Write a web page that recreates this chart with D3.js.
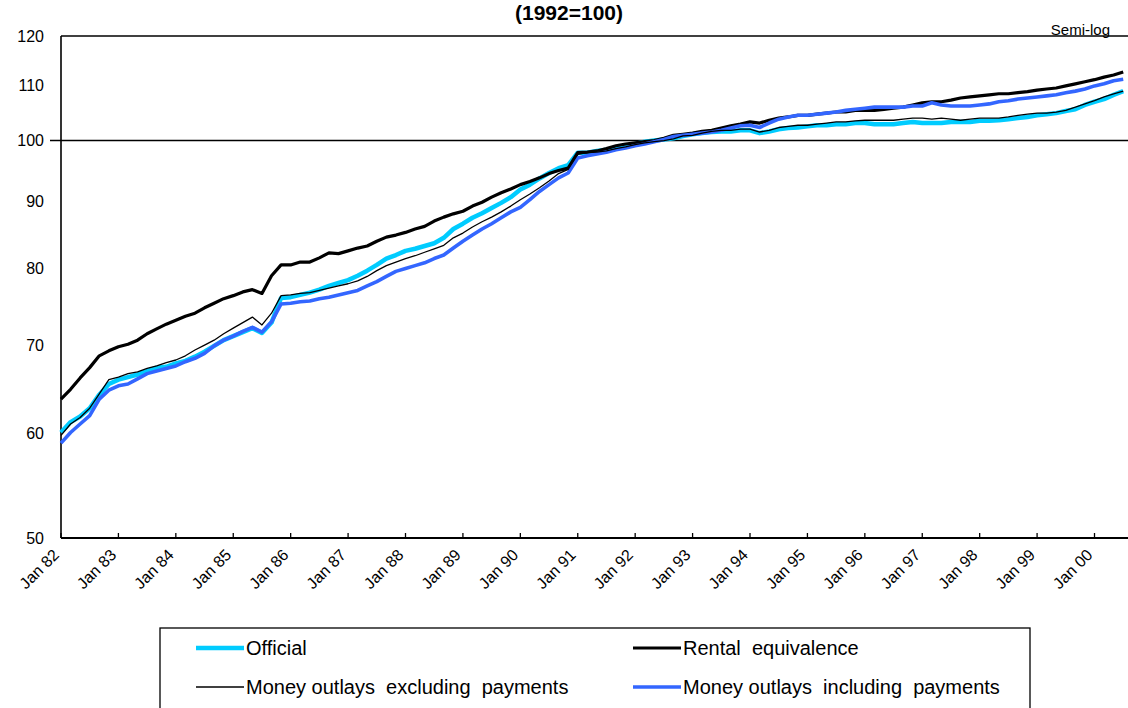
<!DOCTYPE html>
<html>
<head>
<meta charset="utf-8">
<script src="https://cdn.jsdelivr.net/npm/d3@7/dist/d3.min.js"></script>
<style>
  body { margin: 0; background: #fff; }
  svg { display: block; }
  text { font-family: "Liberation Sans", Arial, sans-serif; fill: #000; }
</style>
</head>
<body>
<svg id="chart"></svg>
<script>
// monthly index from Jan 1982, one reading every 2 months
const stepMonths = 2;
const lastMonth = 223;

const official = [
  60.1, 61.2, 61.8, 62.7, 64.2, 65.4, 65.9, 66.2, 66.5, 66.9, 67.3, 67.4,
  67.8, 68.1, 68.6, 69.2, 69.9, 70.6, 71.1, 71.6, 72.1, 71.5, 72.8, 76.0,
  76.1, 76.4, 76.7, 77.1, 77.6, 78.0, 78.4, 79.0, 79.7, 80.5, 81.4, 81.9,
  82.5, 82.8, 83.2, 83.6, 84.4, 85.7, 86.5, 87.4, 88.1, 88.9, 89.7, 90.6,
  91.8, 92.6, 93.6, 94.5, 95.3, 95.8, 97.9, 97.9, 98.2, 98.4, 98.7, 99.1,
  99.4, 99.8, 100.0, 100.2, 100.4, 100.8, 101.1, 101.3, 101.5, 101.6, 101.6, 101.8,
  101.8, 101.3, 101.6, 102.0, 102.2, 102.3, 102.5, 102.7, 102.7, 102.9, 102.9, 103.1,
  103.1, 102.9, 102.9, 102.9, 103.1, 103.3, 103.1, 103.1, 103.1, 103.3, 103.3, 103.3,
  103.5, 103.5, 103.6, 103.8, 104.0, 104.2, 104.5, 104.7, 104.9, 105.3, 105.6, 106.4,
  107.0, 107.5, 108.3, 109.0
];

const rental = [
  63.7, 64.8, 66.1, 67.3, 68.7, 69.3, 69.8, 70.1, 70.6, 71.4, 72.0, 72.6,
  73.1, 73.6, 74.0, 74.7, 75.3, 75.9, 76.3, 76.8, 77.1, 76.6, 79.0, 80.5,
  80.5, 80.9, 80.9, 81.5, 82.2, 82.1, 82.5, 82.9, 83.2, 83.9, 84.5, 84.8,
  85.2, 85.7, 86.1, 86.9, 87.5, 88.0, 88.4, 89.2, 89.8, 90.6, 91.3, 91.9,
  92.6, 93.1, 93.7, 94.4, 94.9, 95.3, 97.9, 98.0, 98.2, 98.6, 99.1, 99.4,
  99.6, 99.8, 100.0, 100.4, 100.9, 101.1, 101.3, 101.6, 101.8, 102.2, 102.6, 102.9,
  103.3, 103.1, 103.6, 104.0, 104.2, 104.5, 104.5, 104.7, 104.9, 105.1, 105.1, 105.4,
  105.4, 105.4, 105.6, 105.8, 106.0, 106.4, 106.8, 107.0, 107.0, 107.3, 107.7, 107.9,
  108.1, 108.3, 108.5, 108.5, 108.7, 108.9, 109.2, 109.4, 109.6, 110.0, 110.4, 110.8,
  111.2, 111.7, 112.1, 112.7
];

const excluding = [
  59.8, 61.0, 61.7, 62.7, 64.3, 65.9, 66.2, 66.6, 66.8, 67.2, 67.5, 67.9,
  68.2, 68.7, 69.4, 70.0, 70.6, 71.4, 72.1, 72.8, 73.5, 72.5, 74.0, 76.3,
  76.4, 76.6, 76.7, 77.0, 77.3, 77.6, 77.9, 78.3, 78.9, 79.7, 80.4, 80.9,
  81.4, 81.8, 82.3, 82.8, 83.3, 84.4, 85.1, 86.0, 86.8, 87.5, 88.3, 89.2,
  90.2, 91.1, 92.1, 93.2, 94.4, 95.1, 97.6, 97.9, 98.0, 98.2, 98.6, 98.9,
  99.3, 99.6, 99.8, 100.0, 100.3, 100.8, 100.9, 101.3, 101.6, 101.8, 101.8, 102.0,
  102.0, 101.5, 101.8, 102.3, 102.5, 102.7, 102.7, 102.9, 103.1, 103.3, 103.3, 103.5,
  103.6, 103.6, 103.6, 103.6, 103.8, 104.0, 104.0, 103.8, 104.0, 103.8, 103.6, 103.8,
  104.0, 104.0, 104.0, 104.2, 104.5, 104.7, 104.9, 104.9, 105.1, 105.4, 106.0, 106.6,
  107.2, 107.9, 108.5, 109.0
];

const including = [
  59.0, 60.1, 61.0, 61.9, 63.7, 64.7, 65.2, 65.4, 66.0, 66.6, 66.9, 67.2,
  67.5, 68.0, 68.4, 69.0, 69.9, 70.6, 71.1, 71.7, 72.2, 71.6, 72.9, 75.2,
  75.3, 75.5, 75.6, 75.9, 76.1, 76.4, 76.7, 77.0, 77.6, 78.2, 78.9, 79.6,
  80.0, 80.4, 80.8, 81.4, 81.9, 82.9, 83.9, 84.8, 85.7, 86.5, 87.4, 88.3,
  89.0, 90.2, 91.5, 92.6, 93.7, 94.5, 97.0, 97.4, 97.7, 98.0, 98.4, 98.7,
  99.1, 99.4, 99.8, 100.2, 100.7, 100.9, 101.1, 101.3, 101.5, 101.8, 102.2, 102.6,
  102.7, 102.3, 103.1, 103.8, 104.2, 104.5, 104.5, 104.7, 104.9, 105.1, 105.4, 105.6,
  105.8, 106.0, 106.0, 106.0, 106.0, 106.2, 106.2, 106.8, 106.4, 106.2, 106.2, 106.2,
  106.4, 106.6, 107.0, 107.2, 107.5, 107.7, 107.9, 108.1, 108.3, 108.7, 109.0, 109.4,
  110.0, 110.4, 111.0, 111.3
];

const yTicks = [50, 60, 70, 80, 90, 100, 110, 120];
const yearLabels = ["Jan 82", "Jan 83", "Jan 84", "Jan 85", "Jan 86", "Jan 87", "Jan 88",
  "Jan 89", "Jan 90", "Jan 91", "Jan 92", "Jan 93", "Jan 94", "Jan 95", "Jan 96",
  "Jan 97", "Jan 98", "Jan 99", "Jan 00"];
const seriesNames = ["Official", "Rental  equivalence",
  "Money outlays  excluding  payments", "Money outlays  including  payments"];

const width = 1128, height = 708;
const margin = { top: 36, right: 0, bottom: 170, left: 61 };

const svg = d3.select("#chart")
  .attr("width", width)
  .attr("height", height);

const x = d3.scaleLinear()
  .domain([0, lastMonth])
  .range([margin.left, width - margin.right]);

const y = d3.scaleLog()
  .domain([50, 120])
  .range([height - margin.bottom, margin.top]);

const plotBottom = height - margin.bottom;

// series styles, in drawing order
const series = [
  { name: seriesNames[0], values: official, color: "#00ccff", w: 4.5 },
  { name: seriesNames[1], values: rental, color: "#000000", w: 3.2 },
  { name: seriesNames[3], values: including, color: "#3366ff", w: 3.6 },
  { name: seriesNames[2], values: excluding, color: "#000000", w: 1.3 }
];

// title
svg.append("text")
  .attr("x", 569)
  .attr("y", 20)
  .attr("text-anchor", "middle")
  .style("font-size", "21px")
  .style("font-weight", "bold")
  .text("(1992=100)");

svg.append("text")
  .attr("x", 1110)
  .attr("y", 35)
  .attr("text-anchor", "end")
  .style("font-size", "15px")
  .text("Semi-log");

// y labels
svg.append("g")
  .selectAll("text")
  .data(yTicks)
  .enter()
  .append("text")
  .attr("x", 44)
  .attr("y", d => y(d))
  .attr("dy", "0.35em")
  .attr("text-anchor", "end")
  .style("font-size", "16px")
  .text(d => d);

// frame: top border, left axis, 100 line
svg.append("line")
  .attr("x1", margin.left).attr("x2", width)
  .attr("y1", y(120)).attr("y2", y(120))
  .attr("stroke", "#000").attr("stroke-width", 1.5);

svg.append("line")
  .attr("x1", 50).attr("x2", width)
  .attr("y1", y(100)).attr("y2", y(100))
  .attr("stroke", "#000").attr("stroke-width", 1.4);

svg.append("line")
  .attr("x1", margin.left).attr("x2", margin.left)
  .attr("y1", y(120)).attr("y2", plotBottom)
  .attr("stroke", "#000").attr("stroke-width", 1.6);

// lines
const line = d3.line()
  .x((d, i) => x(i * stepMonths))
  .y(d => y(d));

svg.append("g")
  .selectAll("path")
  .data(series)
  .enter()
  .append("path")
  .attr("d", d => line(d.values))
  .attr("fill", "none")
  .attr("stroke", d => d.color)
  .attr("stroke-width", d => d.w)
  .attr("stroke-linejoin", "round");

// x axis with yearly ticks pointing inward
const xAxis = svg.append("g")
  .attr("transform", `translate(0,${plotBottom})`);

xAxis.append("line")
  .attr("x1", margin.left).attr("x2", width)
  .attr("stroke", "#000").attr("stroke-width", 2.2);

xAxis.selectAll(".tick")
  .data(yearLabels)
  .enter()
  .append("line")
  .attr("x1", (d, i) => x(i * 12)).attr("x2", (d, i) => x(i * 12))
  .attr("y1", 0).attr("y2", -5)
  .attr("stroke", "#000").attr("stroke-width", 1.3);

xAxis.selectAll(".lbl")
  .data(yearLabels)
  .enter()
  .append("text")
  .attr("transform", (d, i) => `translate(${x(i * 12) - 5},${14}) rotate(-45)`)
  .attr("text-anchor", "end")
  .attr("dy", "0.35em")
  .style("font-size", "16px")
  .text(d => d);

// legend
const legend = svg.append("g");

legend.append("rect")
  .attr("x", 160).attr("y", 628)
  .attr("width", 870).attr("height", 100)
  .attr("fill", "#fff")
  .attr("stroke", "#000").attr("stroke-width", 1.3);

const legendItems = [
  { s: series[0], lx: 196, ly: 648 },
  { s: series[1], lx: 633, ly: 648 },
  { s: series[3], lx: 196, ly: 687 },
  { s: series[2], lx: 633, ly: 687 }
];

legendItems.forEach(item => {
  legend.append("line")
    .attr("x1", item.lx).attr("x2", item.lx + 48)
    .attr("y1", item.ly).attr("y2", item.ly)
    .attr("stroke", item.s.color)
    .attr("stroke-width", item.s.w);
  legend.append("text")
    .attr("x", item.lx + 50)
    .attr("y", item.ly)
    .attr("dy", "0.35em")
    .attr("xml:space", "preserve")
    .style("white-space", "pre")
    .style("font-size", "20px")
    .text(item.s.name);
});
</script>
</body>
</html>
